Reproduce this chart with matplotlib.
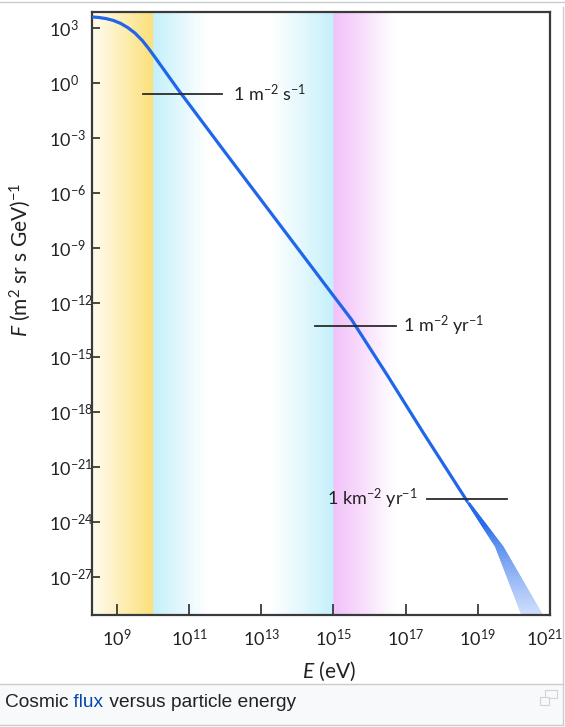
import numpy as np
import matplotlib
matplotlib.use("Agg")
import matplotlib.pyplot as plt
from matplotlib.colors import to_rgb
from matplotlib.patches import Rectangle
from matplotlib.lines import Line2D

plt.rcParams['font.family'] = ['Lato', 'DejaVu Sans']
plt.rcParams['mathtext.fontset'] = 'custom'
plt.rcParams['mathtext.rm'] = 'Lato'
plt.rcParams['mathtext.it'] = 'Lato:italic'
plt.rcParams['mathtext.bf'] = 'Lato:bold'

# ---------------- data (log10 of values) ----------------
curve_log_e = [8.31, 8.5, 8.7, 8.9, 9.1, 9.3, 9.5, 9.7, 9.85, 10.0, 10.2, 10.45,
               10.7, 12.0, 13.0, 14.0, 15.0, 15.5, 16.5, 17.5, 18.72]
curve_log_f = [3.60, 3.57, 3.51, 3.41, 3.25, 3.02, 2.72, 2.32, 1.95, 1.55, 1.00,
               0.31, -0.38, -3.80, -6.41, -9.02, -11.63, -12.93, -16.00, -19.15,
               -22.90]

tail_log_f = [-22.90, -25.31, -29.30]
tail_log_e_low = [18.68, 19.47, 20.25]
tail_log_e_high = [18.76, 19.69, 20.86]

ref_labels = [r'1 m$^{-2}$ s$^{-1}$', r'1 m$^{-2}$ yr$^{-1}$', r'1 km$^{-2}$ yr$^{-1}$']
ref_log_f = [-0.60, -13.29, -22.75]
ref_log_e_start = [9.72, 14.50, 17.58]
ref_log_e_end = [11.92, 16.72, 19.81]

x_tick_exp = [9, 11, 13, 15, 17, 19, 21]
y_tick_exp = [3, 0, -3, -6, -9, -12, -15, -18, -21, -24, -27]

# ---------------- figure ----------------
W, H = 565, 727
fig = plt.figure(figsize=(W / 100, H / 100), dpi=100)

def fx(px):
    return px / W

def fy(py):
    return 1 - py / H

ax_l, ax_r, ax_t, ax_b = 92, 550, 12, 615
rect = [fx(ax_l), fy(ax_b), (ax_r - ax_l) / W, (ax_b - ax_t) / H]

xmin_e, xmax_e = 8.31, 21.0
ymin_e, ymax_e = -29.07, 3.87

# background gradient bands
bg = fig.add_axes(rect, zorder=0)
N = 1500
le = xmin_e + (np.arange(N) + 0.5) / N * (xmax_e - xmin_e)
white = np.array([1.0, 1.0, 1.0])
yellow_lo = np.array([255, 252, 240]) / 255
yellow_hi = np.array([252, 224, 122]) / 255
cyan = np.array([197, 240, 251]) / 255
magenta = np.array([242, 192, 250]) / 255
cols = np.ones((N, 3))
for i, e in enumerate(le):
    if e < 10.0:
        t = (e - xmin_e) / (10.0 - xmin_e)
        cols[i] = yellow_lo + (yellow_hi - yellow_lo) * t
    elif e < 11.5:
        t = 1 - (e - 10.0) / 1.5
        cols[i] = white + (cyan - white) * t
    elif 13.3 <= e < 15.0:
        t = (e - 13.3) / 1.7
        cols[i] = white + (cyan - white) * t
    elif 15.0 <= e < 16.7:
        t = 1 - (e - 15.0) / 1.7
        cols[i] = white + (magenta - white) * t
bg.imshow(cols[np.newaxis, :, :], extent=[xmin_e, xmax_e, 0, 1], aspect='auto',
          interpolation='bilinear')
bg.set_xlim(xmin_e, xmax_e)
bg.set_ylim(0, 1)
bg.axis('off')

ax = fig.add_axes(rect, zorder=1)
ax.patch.set_alpha(0)
ax.set_xscale('log')
ax.set_yscale('log')

line_col = '#1f66ea'
E = 10.0 ** np.array(curve_log_e)
F = 10.0 ** np.array(curve_log_f)
ax.plot(E, F, color=line_col, lw=2.3, solid_capstyle='butt',
        solid_joinstyle='round', zorder=3)

# tail band (fading uncertainty region)
tlf = np.array(tail_log_f)
order = np.argsort(tlf)
fgrid = np.linspace(tlf.max(), tlf.min(), 180)
lo = np.interp(fgrid, tlf[order], np.array(tail_log_e_low)[order])
hi = np.interp(fgrid, tlf[order], np.array(tail_log_e_high)[order])
c0 = np.array(to_rgb(line_col))
c1 = np.array([0.84, 0.89, 0.99])
for i in range(len(fgrid) - 1):
    t = (tlf.max() - fgrid[i]) / (tlf.max() - tlf.min())
    s = np.clip((t - 0.2) / 0.8, 0, 1) ** 0.75
    col = c0 + (c1 - c0) * s
    ax.fill_betweenx(10.0 ** fgrid[i:i + 2], 10.0 ** lo[i:i + 2], 10.0 ** hi[i:i + 2],
                     facecolor=col, edgecolor=col, lw=0.3, zorder=2.5)

# reference flux lines
ref_col = '#2b2b2b'
for k in range(3):
    ax.plot([10.0 ** ref_log_e_start[k], 10.0 ** ref_log_e_end[k]],
            [10.0 ** ref_log_f[k]] * 2, color=ref_col, lw=1.3, zorder=4)
txt_kw = dict(fontsize=13, color='#222222', va='center', zorder=5)
ax.text(10.0 ** 12.21, 10.0 ** ref_log_f[0], ref_labels[0], ha='left', **txt_kw)
ax.text(10.0 ** 16.92, 10.0 ** ref_log_f[1], ref_labels[1], ha='left', **txt_kw)
ax.text(10.0 ** 17.33, 10.0 ** ref_log_f[2], ref_labels[2], ha='right', **txt_kw)

ax.set_xlim(10.0 ** xmin_e, 10.0 ** xmax_e)
ax.set_ylim(10.0 ** ymin_e, 10.0 ** ymax_e)

ax.set_xticks([10.0 ** e for e in x_tick_exp])
xlabels = [r'$10^{%d}$' % e for e in x_tick_exp]
ax.set_xticklabels(xlabels[:-1] + [''])
ax.set_yticks([10.0 ** e for e in y_tick_exp])
ax.set_yticklabels([r'$10^{%d}$' % e for e in y_tick_exp])
ax.xaxis.set_minor_locator(matplotlib.ticker.NullLocator())
ax.yaxis.set_minor_locator(matplotlib.ticker.NullLocator())

spine_col = '#3a3a3a'
for sp in ax.spines.values():
    sp.set_color(spine_col)
    sp.set_linewidth(1.6)
ax.tick_params(axis='both', direction='in', width=1.3, color=spine_col,
               labelsize=13, labelcolor='#222222', top=False, right=False)
ax.tick_params(axis='x', length=8, pad=9)
ax.tick_params(axis='y', length=6, pad=31)
for t in ax.get_yticklabels():
    t.set_horizontalalignment('left')
# last x tick label, nudged left so it stays inside the picture
ax.annotate(xlabels[-1], xy=(1, 0), xycoords='axes fraction', xytext=(-4, -9),
            textcoords='offset points', ha='center', va='top', fontsize=13,
            color='#222222', annotation_clip=False)

fig.text(fx(20), fy(260), r'$\mathit{F}$ (m$^2$ sr s GeV)$^{-1}$', rotation=90,
         ha='center', va='center', fontsize=15, color='#222222')
fig.text(fx(329), fy(671), r'$\mathit{E}$ (eV)', ha='center', va='center',
         fontsize=15, color='#222222')

# ---------------- thumbnail frame & caption ----------------
border = '#c8ccd1'
fig.add_artist(Rectangle((0, fy(725)), fx(563), fy(684) - fy(725),
                         transform=fig.transFigure, facecolor='#f8f9fa',
                         edgecolor='none', zorder=0))
fig.add_artist(Line2D([0, 1], [fy(2), fy(2)], transform=fig.transFigure,
                      color=border, lw=1.0))
fig.add_artist(Line2D([0, fx(563)], [fy(684), fy(684)], transform=fig.transFigure,
                      color=border, lw=1.0))
fig.add_artist(Line2D([0, fx(563)], [fy(725), fy(725)], transform=fig.transFigure,
                      color=border, lw=1.0))
fig.add_artist(Line2D([fx(563), fx(563)], [fy(7), fy(725)], transform=fig.transFigure,
                      color=border, lw=1.0))
# expand icon
fig.add_artist(Rectangle((fx(545), fy(698)), fx(12), fy(690) - fy(698),
                         transform=fig.transFigure, facecolor='none',
                         edgecolor='#d0d3d8', lw=0.8))
fig.add_artist(Rectangle((fx(540), fy(705)), fx(9), fy(697) - fy(705),
                         transform=fig.transFigure, facecolor='#f8f9fa',
                         edgecolor='#d0d3d8', lw=0.8))

cap_kw = dict(fontsize=13.8, family=['Liberation Sans', 'DejaVu Sans'], va='baseline')
t1 = fig.text(fx(5), fy(707), 'Cosmic', color='#202122', **cap_kw)
t2 = fig.text(0, 0, ' flux', color='#0645ad', **cap_kw)
t3 = fig.text(0, 0, ' versus particle energy', color='#202122', **cap_kw)
fig.canvas.draw()
r = fig.canvas.get_renderer()
inv = fig.transFigure.inverted()
b1 = t1.get_window_extent(r)
t2.set_position((inv.transform((b1.x1, 0))[0], fy(707)))
fig.canvas.draw()
b2 = t2.get_window_extent(r)
t3.set_position((inv.transform((b2.x1, 0))[0], fy(707)))

fig.savefig('out.png', dpi=100)
